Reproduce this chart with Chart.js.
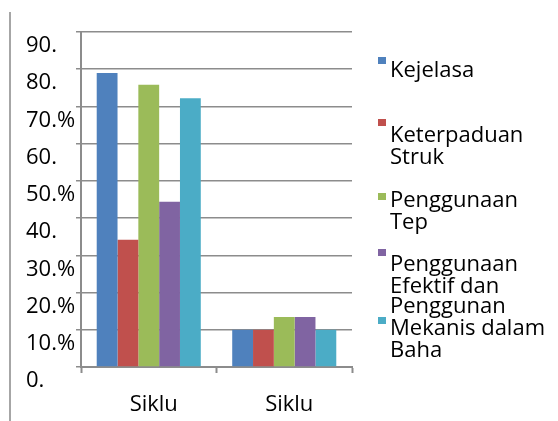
<!DOCTYPE html>
<html>
<head>
<meta charset="utf-8">
<script src="https://cdn.jsdelivr.net/npm/chart.js@4.4.1/dist/chart.umd.min.js"></script>
<style>
  html, body { margin: 0; padding: 0; background: #fff; }
  #wrap { position: relative; width: 558px; height: 421px; }
</style>
</head>
<body>
<div id="wrap"><canvas id="chart" width="558" height="421"></canvas></div>
<script>
// Categories and values
const categories = ['Siklu', 'Siklu'];
const seriesNames = [
  ['Kejelasa'],
  ['Keterpaduan', 'Struk'],
  ['Penggunaan', 'Tep'],
  ['Penggunaan', 'Efektif dan'],
  ['Penggunan', 'Mekanis dalam', 'Baha']
];
const kejelasa = [79.0, 10.0];
const keterpaduan = [34.2, 10.0];
const penggunaanTep = [75.8, 13.4];
const penggunaanEfektif = [44.4, 13.4];
const mekanis = [72.2, 10.0];
const yTickLabels = ['0.', '10.%', '20.%', '30.%', '40.', '50.%', '60.', '70.%', '80.', '90.'];

const colors = ['#4f81bd', '#c0504d', '#9bbb59', '#8064a2', '#4bacc6'];
const gridGray = '#8c8c8c';
const FONT = "'Open Sans', 'Noto Sans', sans-serif";

// legend placement (square top, first text baseline)
const legendX = 378;
const legendTextX = 390;
const legendSquareTop = [57, 119, 193, 249, 317];
const legendFirstBaseline = [77, 142, 207, 271, 313];
const legendLineGap = 22;

const sideLegend = {
  id: 'sideLegend',
  beforeDraw(chart) {
    const ctx = chart.ctx;
    ctx.save();
    ctx.strokeStyle = '#a6a6a6';
    ctx.lineWidth = 2;
    ctx.beginPath();
    ctx.moveTo(10, 12);
    ctx.lineTo(10, 421);
    ctx.stroke();
    ctx.restore();
  },
  afterDraw(chart) {
    const ctx = chart.ctx;
    ctx.save();
    ctx.font = '22px ' + FONT;
    ctx.textAlign = 'left';
    ctx.textBaseline = 'alphabetic';
    chart.data.datasets.forEach((ds, i) => {
      ctx.fillStyle = ds.backgroundColor;
      ctx.fillRect(legendX, legendSquareTop[i], 8, 7);
      ctx.fillStyle = '#000';
      seriesNames[i].forEach((line, j) => {
        ctx.fillText(line, legendTextX, legendFirstBaseline[i] + j * legendLineGap);
      });
    });
    ctx.restore();
  }
};

const seriesData = [kejelasa, keterpaduan, penggunaanTep, penggunaanEfektif, mekanis];

new Chart(document.getElementById('chart').getContext('2d'), {
  type: 'bar',
  data: {
    labels: categories,
    datasets: seriesData.map((d, i) => ({
      label: seriesNames[i].join(' '),
      data: d,
      backgroundColor: colors[i],
      borderWidth: 0,
      categoryPercentage: 0.768,
      barPercentage: 1.0
    }))
  },
  options: {
    responsive: false,
    animation: false,
    layout: { padding: { left: 26, top: 32, right: 206, bottom: 0 } },
    plugins: {
      legend: { display: false },
      tooltip: { enabled: false }
    },
    scales: {
      x: {
        afterFit: (scale) => { scale.height = 54; },
        grid: {
          display: true,
          drawOnChartArea: false,
          drawTicks: true,
          tickLength: 6,
          tickColor: gridGray,
          tickWidth: 2,
          offset: true
        },
        border: { display: true, color: gridGray, width: 2 },
        ticks: {
          color: '#000',
          font: { family: FONT, size: 22 },
          padding: 19,
          labelOffset: 5,
          maxRotation: 0
        }
      },
      y: {
        min: 0,
        max: 90,
        afterFit: (scale) => { scale.width = 55; },
        grid: {
          color: gridGray,
          lineWidth: 1.5,
          tickLength: 5,
          tickColor: gridGray,
          tickWidth: 1.5
        },
        border: { display: true, color: gridGray, width: 2 },
        ticks: {
          stepSize: 10,
          color: '#000',
          crossAlign: 'far',
          labelOffset: 14,
          font: { family: FONT, size: 22 },
          callback: (v) => yTickLabels[Math.round(v / 10)]
        }
      }
    }
  },
  plugins: [sideLegend]
});
</script>
</body>
</html>
